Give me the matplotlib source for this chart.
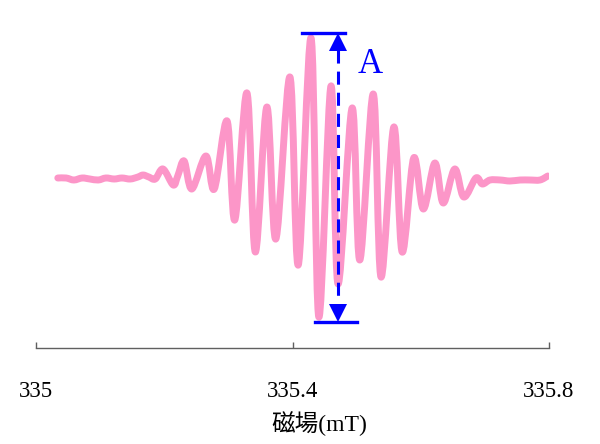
import matplotlib
matplotlib.use("Agg")
import matplotlib.pyplot as plt
from matplotlib.path import Path
from matplotlib.patches import PathPatch

plt.rcParams['lines.scale_dashes'] = False

# EPR-like spectrum (field in mT, signal in arbitrary units)
field = [335.034, 335.047, 335.059, 335.072, 335.084, 335.097, 335.109, 335.122,
         335.134, 335.147, 335.159, 335.167, 335.176, 335.186, 335.198, 335.214,
         335.221, 335.231, 335.243, 335.265, 335.278, 335.298, 335.310, 335.329,
         335.342, 335.360, 335.374, 335.396, 335.409, 335.429, 335.441, 335.460,
         335.471, 335.493, 335.505, 335.526, 335.538, 335.558, 335.571, 335.589,
         335.604, 335.622, 335.635, 335.653, 335.667, 335.686, 335.696, 335.708,
         335.724, 335.739, 335.755, 335.770, 335.786, 335.798]
signal = [1, 1, -1, 1, 0, -1, 1, 0,
          1, 0, 2, 4, 2, 0, 10, -6,
          3, 18, -10, 23, -10, 58, -41, 86,
          -73, 72, -60, 102, -86, 141, -138, 93,
          -105, 71, -81, 85, -98, 52, -73, 21,
          -30, 16, -24, 10, -18, 1, -5, -1,
          -1, -2, -1, -1, -1, 3]

tick_values = [335.0, 335.4, 335.8]
tick_labels = ['335', '335.4', '335.8']
x_label = '磁場(mT)'
amp_label = 'A'

# annotation geometry (data units)
arrow_x = 335.471
top_bar = (335.415, 335.482, 146)
bot_bar = (335.435, 335.501, -143)

fig = plt.figure(figsize=(6.0, 4.44), dpi=100)
ax = fig.add_axes([36/600, 1-348/444, 513/600, 328/444])
ax.set_xlim(335.0, 335.8)
ax.set_ylim(-169, 159)

# smooth curve through the read points (Catmull-Rom rendered as Bezier path)
pts = list(zip(field, signal))
n = len(pts)
verts = [pts[0]]
codes = [Path.MOVETO]
for i in range(n - 1):
    p0 = pts[max(i - 1, 0)]
    p1 = pts[i]
    p2 = pts[i + 1]
    p3 = pts[min(i + 2, n - 1)]
    c1 = (p1[0] + (p2[0] - p0[0]) / 6, p1[1] + (p2[1] - p0[1]) / 6)
    c2 = (p2[0] - (p3[0] - p1[0]) / 6, p2[1] - (p3[1] - p1[1]) / 6)
    verts += [c1, c2, p2]
    codes += [Path.CURVE4] * 3
curve = PathPatch(Path(verts, codes), facecolor='none', edgecolor='#FC96C8',
                  lw=5.0, capstyle='round', joinstyle='round', zorder=2)
ax.add_patch(curve)

blue = '#0000FF'
ax.plot([top_bar[0], top_bar[1]], [top_bar[2], top_bar[2]], color=blue, lw=2.4, zorder=3)
ax.plot([bot_bar[0], bot_bar[1]], [bot_bar[2], bot_bar[2]], color=blue, lw=2.4, zorder=3)
ax.plot([arrow_x, arrow_x], [129, -123], color=blue, lw=2.2, dashes=(9.4, 5.8), zorder=3)
ax.plot([arrow_x], [137], marker='^', markersize=13, color=blue, zorder=4, markeredgewidth=0)
ax.plot([arrow_x], [-134], marker='v', markersize=13, color=blue, zorder=4, markeredgewidth=0)
ax.text(335.521, 106, amp_label, color=blue, fontsize=25, family='Liberation Serif',
        ha='center', va='baseline')

for s in ['top', 'left', 'right']:
    ax.spines[s].set_visible(False)
ax.spines['bottom'].set_color('#606060')
ax.spines['bottom'].set_linewidth(1.0)
ax.set_yticks([])
ax.set_xticks(tick_values)
ax.set_xticklabels(tick_labels, family='Liberation Serif', fontsize=16.5)
ax.tick_params(axis='x', direction='in', length=4.5, width=1.0, color='#606060', pad=24)

fig.text(319/600, 1-424/444, x_label, family=['Liberation Serif', 'Noto Sans CJK JP'],
         fontsize=17, ha='center', va='center')

fig.savefig('out.png', dpi=100)
